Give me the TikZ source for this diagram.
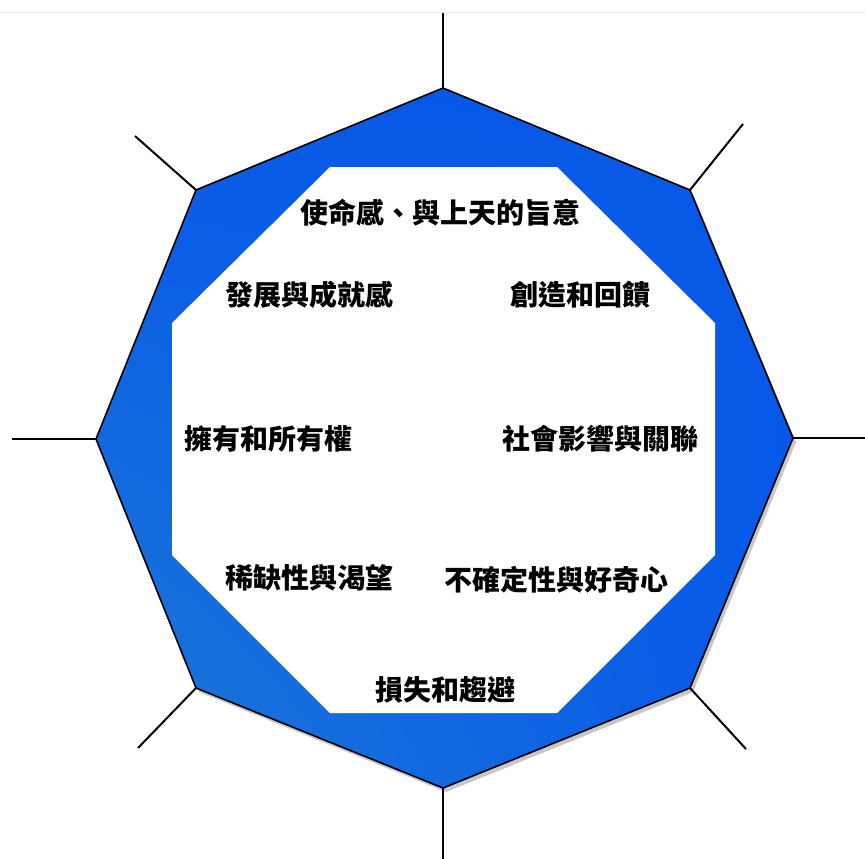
\documentclass[tikz,border=0pt]{standalone}
\usepackage{fontspec}
\usetikzlibrary{shadings}
\newfontfamily\cjk{Noto Sans CJK TC}
\definecolor{bandlight}{RGB}{28,122,214}
\definecolor{banddark}{RGB}{8,88,232}
\begin{document}
\begin{tikzpicture}[x=1pt,y=-1pt,
  lbl/.style={font=\cjk\bfseries\fontsize{28}{32}\selectfont, inner sep=0pt, text=black},
  spoke/.style={draw=black, line width=2pt},
  rim/.style={draw=black, line width=1.6pt, line join=miter}]
\useasboundingbox (0,0) rectangle (865,859);
\fill[white] (0,0) rectangle (865,859);
\draw[black!8, line width=0.8pt] (0,12) -- (865,12);
% outer vertices
\coordinate (vT) at (443,88);
\coordinate (vUR) at (690,190);
\coordinate (vR) at (793,438);
\coordinate (vLR) at (690,688);
\coordinate (vB) at (443,788);
\coordinate (vLL) at (196,688);
\coordinate (vL) at (96,439);
\coordinate (vUL) at (196,190);
% spoke ends
\coordinate (eT) at (443,13);
\coordinate (eUR) at (743,124);
\coordinate (eR) at (865,438);
\coordinate (eLR) at (746,749);
\coordinate (eB) at (443,859);
\coordinate (eLL) at (138,748);
\coordinate (eL) at (12,439);
\coordinate (eUL) at (135,136);
% shadow
\fill[black!22] ([shift={(3,4)}]vT) -- ([shift={(3,4)}]vUR) -- ([shift={(3,4)}]vR) -- ([shift={(3,4)}]vLR) -- ([shift={(3,4)}]vB) -- ([shift={(3,4)}]vLL) -- ([shift={(3,4)}]vL) -- ([shift={(3,4)}]vUL) -- cycle;
% band
\shade[lower left=bandlight, upper right=banddark, lower right=banddark, upper left=banddark]
  (vT) -- (vUR) -- (vR) -- (vLR) -- (vB) -- (vLL) -- (vL) -- (vUL) -- cycle;
\fill[white] (330,167) -- (557,167) -- (715,323) -- (715,555) -- (557,713) -- (330,713) -- (172,555) -- (172,323) -- cycle;
\draw[rim] (vT) -- (vUR) -- (vR) -- (vLR) -- (vB) -- (vLL) -- (vL) -- (vUL) -- cycle;
% spokes
\foreach \v in {T,UR,R,LR,B,LL,L,UL} { \draw[spoke] (v\v) -- (e\v); }
% labels
\node[lbl] (t1) at (440,213) {使命感、與上天的旨意};
\node[lbl] (t2) at (309,295) {發展與成就感};
\node[lbl] (t3) at (580,295) {創造和回饋};
\node[lbl] (t4) at (268,439) {擁有和所有權};
\node[lbl] (t5) at (600,439) {社會影響與關聯};
\node[lbl] (t6) at (309,578) {稀缺性與渴望};
\node[lbl] (t7) at (556,580) {不確定性與好奇心};
\node[lbl] (t8) at (445,690) {損失和趨避};
\end{tikzpicture}
\end{document}
